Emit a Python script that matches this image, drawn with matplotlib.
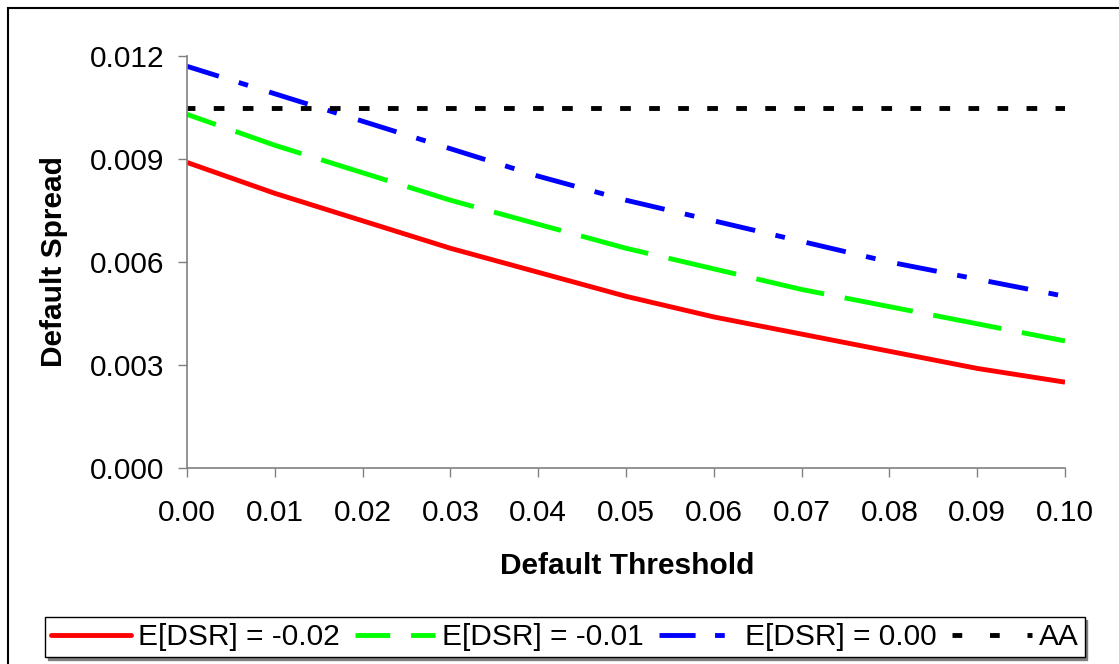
import matplotlib
matplotlib.use("Agg")
import matplotlib.pyplot as plt
from matplotlib.lines import Line2D
from matplotlib.patches import Rectangle
from matplotlib.ticker import FormatStrFormatter

# ---- data ----
threshold = [0.00, 0.01, 0.02, 0.03, 0.04, 0.05, 0.06, 0.07, 0.08, 0.09, 0.10]
dsr_m002 = [0.0089, 0.0080, 0.0072, 0.0064, 0.0057, 0.0050, 0.0044, 0.0039, 0.0034, 0.0029, 0.0025]
dsr_m001 = [0.0103, 0.0094, 0.0086, 0.0078, 0.0071, 0.0064, 0.0058, 0.0052, 0.0047, 0.0042, 0.0037]
dsr_000 = [0.0117, 0.0109, 0.0101, 0.0093, 0.0085, 0.0078, 0.0072, 0.0066, 0.0060, 0.0055, 0.0050]
aa_level = [0.0105] * len(threshold)
series_labels = ["E[DSR] = -0.02", "E[DSR] = -0.01", "E[DSR] = 0.00", "AA"]
y_ticks = [0.000, 0.003, 0.006, 0.009, 0.012]
x_ticks = [0.00, 0.01, 0.02, 0.03, 0.04, 0.05, 0.06, 0.07, 0.08, 0.09, 0.10]
x_label = "Default Threshold"
y_label = "Default Spread"

plt.rcParams['font.family'] = ['Liberation Sans', 'DejaVu Sans']
plt.rcParams['lines.scale_dashes'] = False

W, H = 1119, 664
fig = plt.figure(figsize=(W / 100, H / 100), dpi=100)
fig.patch.set_facecolor('white')

L, R, T, B = 187, 1065, 56, 468
ax = fig.add_axes([L / W, 1 - B / H, (R - L) / W, (B - T) / H])

lw = 3.5
ax.plot(threshold, dsr_m002, color='#FF0000', lw=lw, solid_capstyle='butt',
        label=series_labels[0])
ax.plot(threshold, dsr_m001, color='#00FF00', lw=lw, dash_capstyle='butt',
        linestyle=(28, (50, 15)), label=series_labels[1])
ax.plot(threshold, dsr_000, color='#0000FF', lw=lw, dash_capstyle='butt',
        linestyle=(5, (29, 15, 7, 16)), label=series_labels[2])
ax.plot(threshold, aa_level, color='black', lw=lw, dash_capstyle='butt',
        linestyle=(2, (7.7, 13.2)), label=series_labels[3])

ax.set_xlim(0, 0.10)
ax.set_ylim(0, 0.012)
ax.set_xticks(x_ticks)
ax.set_yticks(y_ticks)
ax.xaxis.set_major_formatter(FormatStrFormatter('%.2f'))
ax.yaxis.set_major_formatter(FormatStrFormatter('%.3f'))

for s in ['top', 'right']:
    ax.spines[s].set_visible(False)
for s in ['left', 'bottom']:
    ax.spines[s].set_color('#808080')
    ax.spines[s].set_linewidth(1.2)

ax.tick_params(axis='both', direction='out', length=6.5, width=1.0,
               color='#808080', labelsize=21.5, labelcolor='black')
ax.tick_params(axis='x', pad=16)
ax.tick_params(axis='y', pad=10)

fig.text(627 / W, 1 - 566 / H, x_label, ha='center', va='center',
         fontsize=21.5, fontweight='bold')
fig.text(54.5 / W, 1 - 262 / H, y_label, ha='center', va='center',
         rotation=90, fontsize=21.5, fontweight='bold')

# legend with proxies styled like the reference legend
handles = [
    Line2D([], [], color='#FF0000', lw=lw, solid_capstyle='round'),
    Line2D([], [], color='#00FF00', lw=lw, dash_capstyle='butt', linestyle=(0, (25, 15))),
    Line2D([], [], color='#0000FF', lw=lw, dash_capstyle='butt', linestyle=(0, (26, 14, 7, 30))),
    Line2D([], [], color='black', lw=lw, dash_capstyle='butt', linestyle=(0, (7, 20))),
]
leg = fig.legend(handles, series_labels, loc='center', ncol=4,
                 bbox_to_anchor=(565 / W, 1 - 637 / H), fontsize=21.5,
                 handlelength=2.68, handletextpad=0.23, columnspacing=0.5,
                 borderpad=0.2, fancybox=False, frameon=True,
                 shadow={'color': '#808080', 'alpha': 1.0})
leg.get_frame().set_edgecolor('black')
leg.get_frame().set_linewidth(1.0)

# figure border (left & top visible)
fig.add_artist(Rectangle((8 / W, -0.1), 1.2, (1 - 8 / H) + 0.1, transform=fig.transFigure,
                         fill=False, edgecolor='black', lw=1.5, clip_on=False))

fig.savefig('out.png', dpi=100)
